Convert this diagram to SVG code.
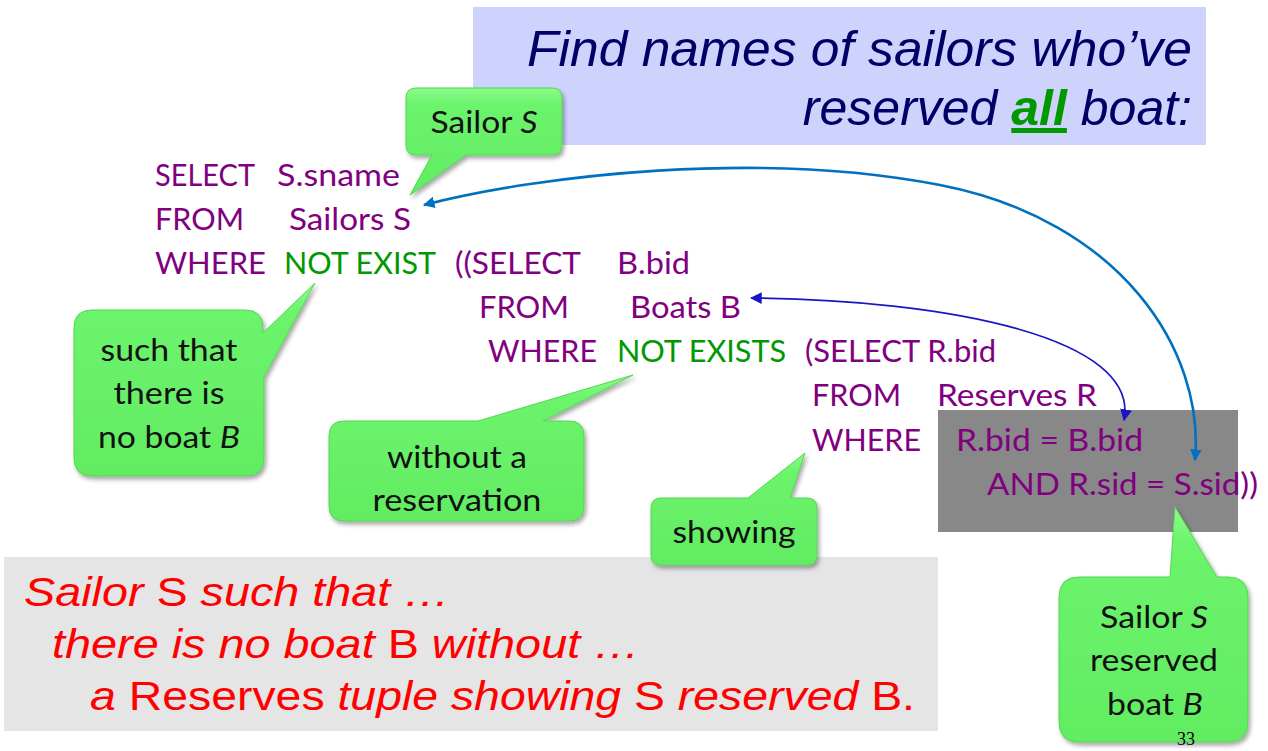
<svg xmlns="http://www.w3.org/2000/svg" width="1268" height="751" viewBox="0 0 1268 751">
<defs>
<linearGradient id="g" x1="0" y1="0" x2="0" y2="1">
<stop offset="0" stop-color="#8CFC8C"/>
<stop offset="0.15" stop-color="#6CF46C"/>
<stop offset="1" stop-color="#62EC62"/>
</linearGradient>
<filter id="sh" x="-10%" y="-10%" width="130%" height="130%">
<feDropShadow dx="2" dy="3" stdDeviation="2" flood-color="#000" flood-opacity="0.35"/>
</filter>
<marker id="ab" viewBox="0 0 10 10" refX="9" refY="5" markerWidth="4.5" markerHeight="4.5" orient="auto-start-reverse" markerUnits="strokeWidth">
<path d="M0,0 L10,5 L0,10 Z" fill="#0070C0"/>
</marker>
<marker id="ad" viewBox="0 0 10 10" refX="9" refY="5" markerWidth="7" markerHeight="7" orient="auto-start-reverse" markerUnits="strokeWidth">
<path d="M0,0 L10,5 L0,10 Z" fill="#1A14C8"/>
</marker>
<style>
.sql{font-family:Lato,"Open Sans",sans-serif;font-size:30px;fill:#800080}
.kw{fill:#009900}
.co{font-family:Lato,"Open Sans",sans-serif;font-size:31px;fill:#111;text-anchor:middle}
.bub{fill:url(#g);stroke:#55D455;stroke-width:1;filter:url(#sh)}
.ttl{font-family:"Liberation Sans",Arial,sans-serif;font-style:italic;font-size:50px;fill:#000066;text-anchor:end}
.red{font-family:"Liberation Sans",Arial,sans-serif;font-size:40px;fill:#FF0000}
.it{font-style:italic}
</style>
</defs>
<rect width="1268" height="751" fill="#fff"/>

<g id="title">
<rect x="473" y="7" width="733" height="138" fill="#CED3FE"/>
<text class="ttl" x="1192" y="66" textLength="665" lengthAdjust="spacingAndGlyphs">Find names of sailors who’ve</text>
<text class="ttl" x="1192" y="125">reserved <tspan font-weight="bold" fill="#009900" text-decoration="underline">all</tspan> boat:</text>
</g>

<g id="highlight">
<rect x="938" y="410" width="300" height="122" fill="#888888"/>
</g>

<g id="summary">
<rect x="4" y="557" width="934" height="174" fill="#E5E5E5"/>
<text class="red" x="24" y="606" textLength="426" lengthAdjust="spacingAndGlyphs"><tspan class="it">Sailor</tspan>  S <tspan class="it">such that …</tspan></text>
<text class="red" x="52" y="658" textLength="588" lengthAdjust="spacingAndGlyphs"><tspan class="it">there is no boat</tspan>  B <tspan class="it">without …</tspan></text>
<text class="red" x="90" y="710" textLength="825" lengthAdjust="spacingAndGlyphs"><tspan class="it">a</tspan> Reserves <tspan class="it">tuple showing</tspan> S <tspan class="it">reserved</tspan>  B.</text>
</g>

<g id="sql">
<text class="sql" x="155" y="186" textLength="100" lengthAdjust="spacingAndGlyphs">SELECT</text>
<text class="sql" x="277" y="186" textLength="123" lengthAdjust="spacingAndGlyphs">S.sname</text>
<text class="sql" x="155" y="230" textLength="89" lengthAdjust="spacingAndGlyphs">FROM</text>
<text class="sql" x="289" y="230" textLength="122" lengthAdjust="spacingAndGlyphs">Sailors S</text>
<text class="sql" x="155" y="274" textLength="111" lengthAdjust="spacingAndGlyphs">WHERE</text>
<text class="sql kw" x="284" y="274" textLength="152" lengthAdjust="spacingAndGlyphs">NOT EXIST</text>
<text class="sql" x="455" y="274" textLength="126" lengthAdjust="spacingAndGlyphs">((SELECT</text>
<text class="sql" x="617" y="274" textLength="73" lengthAdjust="spacingAndGlyphs">B.bid</text>
<text class="sql" x="479" y="318" textLength="90" lengthAdjust="spacingAndGlyphs">FROM</text>
<text class="sql" x="630" y="318" textLength="111" lengthAdjust="spacingAndGlyphs">Boats B</text>
<text class="sql" x="488" y="362" textLength="109" lengthAdjust="spacingAndGlyphs">WHERE</text>
<text class="sql kw" x="617" y="362" textLength="169" lengthAdjust="spacingAndGlyphs">NOT EXISTS</text>
<text class="sql" x="805" y="362" textLength="191" lengthAdjust="spacingAndGlyphs">(SELECT R.bid</text>
<text class="sql" x="812" y="406" textLength="89" lengthAdjust="spacingAndGlyphs">FROM</text>
<text class="sql" x="937" y="406" textLength="160" lengthAdjust="spacingAndGlyphs">Reserves R</text>
<text class="sql" x="812" y="451" textLength="109" lengthAdjust="spacingAndGlyphs">WHERE</text>
<text class="sql" x="956" y="451" textLength="187" lengthAdjust="spacingAndGlyphs">R.bid = B.bid</text>
<text class="sql" x="987" y="495" textLength="271" lengthAdjust="spacingAndGlyphs">AND R.sid = S.sid))</text>
</g>

<g id="connectors" fill="none">
<path d="M424,205 C540,175 760,150 940,185 S1205,350 1195,460" stroke="#0070C0" stroke-width="2.6" marker-start="url(#ab)" marker-end="url(#ab)"/>
<path d="M751,298 C950,300 1140,338 1124,420" stroke="#1A14C8" stroke-width="1.7" marker-start="url(#ad)" marker-end="url(#ad)"/>
</g>

<g id="callout-sailor">
<path class="bub" d="M416,88 H552 Q562,88 562,98 V145 Q562,155 552,155 H466 L410,195 L432,155 H416 Q406,155 406,145 V98 Q406,88 416,88 Z"/>
<text class="co" x="484" y="133" textLength="107" lengthAdjust="spacingAndGlyphs">Sailor <tspan font-style="italic">S</tspan></text>
</g>

<g id="callout-noboat">
<path class="bub" d="M92,310 H245 Q263,310 263,328 V333 L315,283 L264,377 V458 Q264,476 246,476 H92 Q74,476 74,458 V328 Q74,310 92,310 Z"/>
<text class="co" x="169" y="361" textLength="137" lengthAdjust="spacingAndGlyphs">such that</text>
<text class="co" x="169" y="404" textLength="111" lengthAdjust="spacingAndGlyphs">there is</text>
<text class="co" x="169" y="448" textLength="142" lengthAdjust="spacingAndGlyphs">no boat <tspan font-style="italic">B</tspan></text>
</g>

<g id="callout-without">
<path class="bub" d="M344,421 H478 L633,375 L543,421 H569 Q584,421 584,436 V506 Q584,521 569,521 H344 Q329,521 329,506 V436 Q329,421 344,421 Z"/>
<text class="co" x="457" y="468" textLength="140" lengthAdjust="spacingAndGlyphs">without a</text>
<text class="co" x="457" y="511" textLength="169" lengthAdjust="spacingAndGlyphs">reservation</text>
</g>

<g id="callout-showing">
<path class="bub" d="M661,498 H748 L805,453 L790,498 H807 Q817,498 817,508 V555 Q817,565 807,565 H661 Q651,565 651,555 V508 Q651,498 661,498 Z"/>
<text class="co" x="734" y="543" textLength="123" lengthAdjust="spacingAndGlyphs">showing</text>
</g>

<g id="callout-reserved">
<path class="bub" d="M1079,577 H1170 L1175,507 L1217,577 H1228 Q1248,577 1248,597 V722 Q1248,742 1228,742 H1079 Q1059,742 1059,722 V597 Q1059,577 1079,577 Z"/>
<text class="co" x="1154" y="628" textLength="108" lengthAdjust="spacingAndGlyphs">Sailor <tspan font-style="italic">S</tspan></text>
<text class="co" x="1154" y="671" textLength="128" lengthAdjust="spacingAndGlyphs">reserved</text>
<text class="co" x="1155" y="715" textLength="96" lengthAdjust="spacingAndGlyphs">boat <tspan font-style="italic">B</tspan></text>
</g>

<g id="pagenum">
<text x="1177" y="745" font-family="'Liberation Serif',serif" font-size="18" fill="#000">33</text>
</g>
</svg>
